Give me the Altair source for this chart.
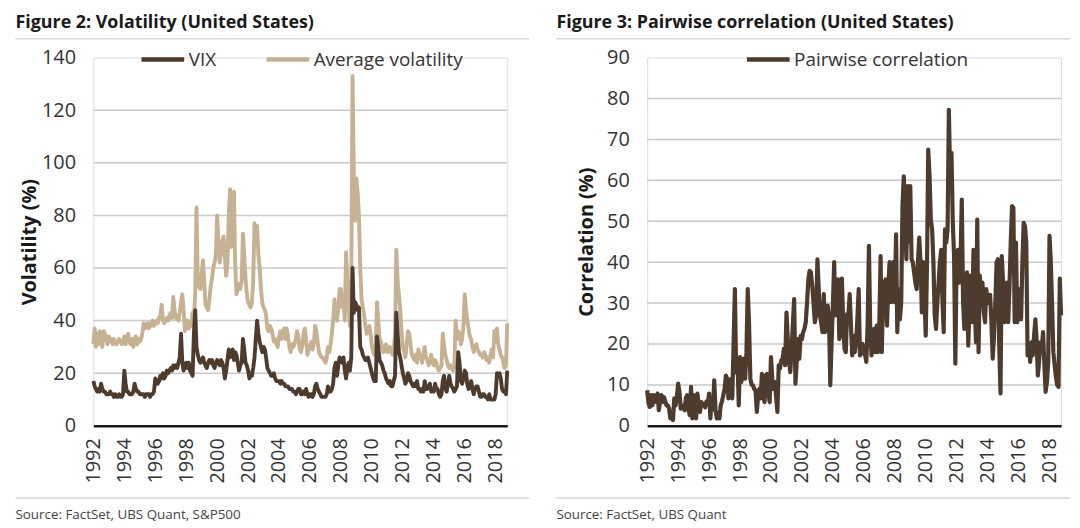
import altair as alt
import pandas as pd

# ---------------- data (monthly, Jan 1992 - Oct 2018) ----------------
vix = [
    17, 15, 14, 13, 14, 13, 16, 14, 13, 13, 12, 12,   # 1992
    12, 13, 12, 12, 11, 12, 11, 11, 12, 11, 11, 12,   # 1993
    21, 16, 13, 13, 12, 12, 12, 13, 16, 14, 13, 13,   # 1994
    12, 12, 12, 12, 11, 12, 12, 12, 11, 12, 12, 13,   # 1995
    18, 17, 16, 17, 19, 18, 20, 18, 19, 21, 20, 21,   # 1996
    22, 21, 23, 22, 23, 22, 24, 26, 35, 24, 21, 23,   # 1997
    24, 22, 24, 21, 20, 19, 35, 44, 30, 27, 25, 24,   # 1998
    25, 26, 24, 23, 22, 24, 25, 24, 25, 23, 22, 24,   # 1999
    25, 24, 23, 25, 24, 22, 18, 21, 25, 29, 26, 28,   # 2000
    29, 25, 28, 27, 24, 21, 23, 24, 33, 29, 24, 23,   # 2001
    21, 18, 20, 19, 22, 26, 33, 40, 35, 32, 30, 28,   # 2002
    30, 29, 26, 22, 21, 20, 19, 19, 20, 18, 17, 17,   # 2003
    17, 16, 17, 16, 16, 15, 15, 15, 14, 14, 14, 13,   # 2004
    13, 12, 13, 14, 14, 12, 12, 13, 12, 14, 12, 11,   # 2005
    12, 12, 11, 12, 15, 16, 14, 13, 12, 11, 11, 11,   # 2006
    11, 12, 15, 13, 13, 14, 16, 22, 24, 19, 23, 26,   # 2007
    25, 24, 26, 21, 18, 22, 24, 21, 26, 60, 43, 47,   # 2008
    46, 44, 45, 30, 29, 27, 26, 25, 25, 26, 24, 22,   # 2009
    20, 18, 17, 17, 34, 30, 25, 24, 23, 21, 20, 18,   # 2010
    17, 16, 17, 15, 15, 17, 19, 43, 35, 28, 26, 23,   # 2011
    20, 18, 16, 17, 20, 19, 17, 16, 15, 16, 15, 17,   # 2012
    14, 14, 13, 14, 13, 17, 14, 14, 15, 16, 13, 14,   # 2013
    13, 16, 14, 14, 12, 11, 12, 17, 19, 14, 13, 16,   # 2014
    19, 16, 15, 14, 13, 14, 15, 28, 24, 17, 16, 18,   # 2015
    21, 20, 16, 14, 15, 17, 14, 12, 14, 15, 15, 13,   # 2016
    11, 11, 12, 12, 11, 11, 10, 12, 10, 10, 10, 10,   # 2017
    12, 20, 19, 20, 18, 14, 13, 13, 12, 21,           # 2018
]

avg_vol = [
    31, 37, 30, 35, 31, 36, 33, 30, 36, 35, 33, 31,   # 1992
    34, 32, 33, 31, 33, 32, 31, 32, 33, 32, 31, 32,   # 1993
    34, 31, 33, 35, 32, 31, 33, 30, 33, 34, 31, 33,   # 1994
    32, 33, 35, 39, 37, 38, 39, 37, 39, 38, 40, 38,   # 1995
    39, 40, 39, 41, 42, 46, 40, 39, 40, 41, 40, 42,   # 1996
    43, 41, 49, 44, 41, 42, 40, 43, 47, 50, 44, 36,   # 1997
    38, 40, 37, 39, 38, 43, 41, 50, 83, 55, 53, 52,   # 1998
    58, 63, 55, 46, 45, 44, 48, 53, 56, 60, 62, 65,   # 1999
    80, 70, 62, 66, 70, 72, 64, 57, 62, 80, 90, 68,   # 2000
    75, 89, 62, 50, 52, 54, 52, 55, 73, 65, 56, 50,   # 2001
    47, 46, 45, 47, 55, 77, 70, 76, 65, 60, 52, 47,   # 2002
    45, 44, 42, 37, 36, 38, 37, 35, 32, 33, 31, 30,   # 2003
    34, 36, 33, 35, 37, 33, 37, 34, 30, 28, 31, 30,   # 2004
    31, 33, 36, 34, 29, 28, 30, 35, 37, 33, 27, 29,   # 2005
    30, 32, 29, 31, 38, 36, 32, 28, 27, 26, 26, 25,   # 2006
    24, 26, 30, 28, 31, 35, 40, 48, 42, 40, 45, 52,   # 2007
    52, 45, 47, 40, 66, 55, 45, 38, 52, 133, 95, 78,  # 2008
    94, 88, 80, 60, 48, 45, 42, 38, 35, 36, 38, 35,   # 2009
    30, 28, 27, 30, 47, 40, 33, 32, 30, 28, 29, 31,   # 2010
    28, 29, 30, 28, 27, 29, 35, 67, 55, 50, 44, 36,   # 2011
    30, 28, 26, 31, 36, 35, 31, 27, 26, 25, 27, 24,   # 2012
    29, 27, 26, 24, 27, 30, 26, 25, 23, 25, 27, 24,   # 2013
    23, 25, 24, 22, 21, 22, 23, 35, 30, 27, 25, 23,   # 2014
    22, 23, 22, 21, 22, 40, 33, 36, 35, 31, 33, 38,   # 2015
    50, 44, 40, 37, 34, 33, 30, 28, 30, 31, 29, 28,   # 2016
    27, 27, 26, 28, 27, 25, 26, 24, 27, 29, 26, 36,   # 2017
    32, 37, 31, 29, 27, 26, 24, 22, 23, 39,           # 2018
]

pairwise = [
    8.7, 5.5, 4.6, 7.5, 5.0, 7.5, 5.8, 6.5, 7.9, 3.8, 6.0, 7.5,          # 1992
    5.8, 7.0, 6.0, 5.0, 5.0, 4.2, 1.8, 3.0, 1.4, 6.7, 5.0, 7.0,          # 1993
    10.3, 8.3, 4.2, 5.0, 4.5, 3.8, 6.7, 7.5, 4.0, 2.6, 9.5, 1.8,         # 1994
    7.5, 4.0, 1.8, 7.9, 5.0, 3.4, 5.8, 5.4, 5.0, 4.5, 6.0, 5.4,          # 1995
    7.9, 1.8, 6.7, 4.0, 11.1, 4.0, 1.8, 3.0, 1.8, 5.0, 6.0, 7.5,         # 1996
    9.0, 12.3, 11.5, 6.7, 9.0, 11.5, 6.7, 20.0, 33.4, 13.0, 16.4, 5.0,   # 1997
    16.8, 10.7, 14.0, 16.4, 11.5, 18.0, 33.4, 25.0, 11.5, 10.0, 9.9, 9.0,  # 1998
    8.7, 3.4, 7.0, 9.0, 6.7, 12.7, 8.0, 5.8, 12.3, 12.7, 8.0, 5.8,       # 1999
    16.8, 11.5, 9.0, 10.7, 7.0, 3.4, 14.8, 14.0, 16.0, 16.4, 18.8, 14.8,  # 2000
    27.7, 21.2, 16.0, 13.1, 18.8, 25.0, 31.0, 10.3, 16.0, 21.2, 16.4, 22.0,  # 2001
    21.2, 23.0, 23.7, 25.3, 30.0, 35.8, 37.9, 37.5, 34.2, 30.0, 25.3, 27.0,  # 2002
    40.7, 33.4, 27.0, 25.0, 22.9, 32.2, 22.9, 26.0, 29.4, 26.5, 9.9, 20.0,   # 2003
    29.4, 40.0, 27.0, 30.0, 35.8, 21.2, 22.9, 36.0, 25.0, 18.8, 18.0, 27.3,  # 2004
    27.0, 32.2, 25.0, 17.2, 22.0, 18.0, 20.4, 26.0, 33.4, 17.2, 18.5, 20.0,  # 2005
    17.6, 17.2, 15.6, 25.0, 44.0, 23.7, 17.2, 20.0, 23.7, 18.0, 24.5, 18.0,  # 2006
    25.0, 41.5, 18.0, 33.4, 35.0, 35.8, 24.5, 34.0, 40.0, 30.2, 35.0, 40.0,  # 2007
    30.2, 46.8, 22.9, 33.4, 26.0, 30.0, 53.7, 61.0, 49.6, 40.7, 58.6, 45.0,  # 2008
    58.6, 40.7, 40.0, 37.5, 35.0, 33.4, 40.0, 46.0, 40.0, 27.7, 40.0, 32.0,  # 2009
    22.0, 40.0, 67.5, 61.0, 50.4, 48.0, 40.0, 27.0, 23.7, 30.0, 35.0, 40.0,  # 2010
    43.0, 30.0, 22.9, 48.0, 44.8, 48.0, 77.2, 60.2, 66.7, 50.0, 41.5, 15.2,  # 2011
    41.5, 43.0, 35.0, 40.0, 55.3, 30.2, 23.7, 28.0, 37.5, 19.6, 30.0, 36.7,  # 2012
    25.3, 43.0, 30.0, 20.4, 50.4, 18.0, 36.7, 29.4, 35.0, 28.0, 25.3, 33.4,  # 2013
    30.0, 31.0, 32.0, 25.3, 16.4, 22.0, 30.0, 40.0, 40.7, 20.0, 7.9, 41.5,   # 2014
    35.0, 25.3, 30.0, 35.0, 25.3, 34.2, 45.0, 53.7, 53.3, 25.3, 44.8, 25.3,  # 2015
    30.0, 33.4, 26.0, 40.0, 49.6, 48.8, 44.8, 17.2, 20.0, 15.6, 20.4, 17.2,  # 2016
    22.0, 26.0, 21.2, 12.3, 16.0, 20.4, 18.8, 22.9, 15.0, 8.3, 10.7, 15.6,   # 2017
    46.4, 40.0, 30.0, 18.0, 15.0, 12.0, 10.0, 9.5, 36.0, 27.0,               # 2018
]

label_years = list(range(1992, 2019, 2))
grid_left = [20, 40, 60, 80, 100, 120]
grid_right = [10, 20, 30, 40, 50, 60, 70, 80]
left_series = ["VIX", "Average volatility"]
right_series = ["Pairwise correlation"]
left_title = "Figure 2: Volatility (United States)"
right_title = "Figure 3: Pairwise correlation (United States)"
left_source = "Source: FactSet, UBS Quant, S&P500"
right_source = "Source: FactSet, UBS Quant"

# ---------------- build tables ----------------
n = len(vix)
dates = pd.date_range("1992-01-01", periods=n, freq="MS")
left_df = pd.concat([
    pd.DataFrame({"date": dates, "value": avg_vol, "series": "Average volatility"}),
    pd.DataFrame({"date": dates, "value": vix, "series": "VIX"}),
])
right_df = pd.DataFrame({"date": dates, "value": pairwise, "series": "Pairwise correlation"})

# ---------------- style ----------------
FONT = "Open Sans"
DARK = "#4d3c2e"
TAN = "#c6b292"
GRID = "#c9c9c9"
RULE = "#d6d6d6"
W, H = 417, 371
one = pd.DataFrame({"k": [0]})


def x_enc():
    return alt.X(
        "date:T", title=None,
        scale=alt.Scale(domain=[alt.DateTime(year=1992, month=1, date=1),
                                alt.DateTime(year=2018, month=10, date=1)]),
        axis=alt.Axis(values=[alt.DateTime(year=y, month=1, date=1) for y in label_years],
                      format="%Y", labelAngle=270, labelFontSize=20, labelFont=FONT,
                      labelColor="#333333", labelPadding=12, ticks=False, tickSize=0,
                      grid=False, domainColor="#1a1a1a", domainWidth=2.5,
                      labelOverlap=False, labelFlush=False),
    )


def y_enc(top, step, title, tx):
    return alt.Y(
        "value:Q", title=title, scale=alt.Scale(domain=[0, top], nice=False, zero=True),
        axis=alt.Axis(values=list(range(0, top + 1, step)), grid=False, domain=False,
                      ticks=False, tickSize=0, labelFontSize=20, labelFont=FONT,
                      labelColor="#333333", labelPadding=18,
                      titleFontSize=20, titleFont=FONT, titleFontWeight="bold",
                      titleColor="#1a1a1a", titleAngle=270, titleX=tx, titleY=H / 2,
                      titleAlign="center", titleBaseline="middle"),
    )


def panel(df, series, colors, width_line, top, step, grid, ytitle, tx, title, source,
          rule_x0, rule_x1, legend_x):
    yy = y_enc(top, step, ytitle, tx)
    grid_layer = alt.Chart(pd.DataFrame({"value": grid})).mark_rule(
        color=GRID, strokeWidth=1.5).encode(
        y=yy, x=alt.value(0), x2=alt.value(W))
    lines = alt.Chart(df).mark_line(strokeWidth=width_line, strokeJoin="round").encode(
        x=x_enc(),
        y=yy,
        color=alt.Color("series:N", scale=alt.Scale(domain=series, range=colors),
                        legend=alt.Legend(title=None, orient="none", legendX=legend_x,
                                          legendY=-22, direction="horizontal",
                                          symbolType="stroke", symbolSize=1849,
                                          symbolStrokeWidth=4.5, labelFontSize=19,
                                          labelFont=FONT, labelColor="#333333",
                                          columnPadding=41, labelOffset=2, padding=0,
                                          labelLimit=400)),
        detail="series:N",
    )
    top_rule = alt.Chart(one).mark_rule(color=RULE, strokeWidth=1.5).encode(
        x=alt.value(rule_x0), x2=alt.value(rule_x1), y=alt.value(-19))
    bottom_rule = alt.Chart(one).mark_rule(color=RULE, strokeWidth=1.5).encode(
        x=alt.value(rule_x0), x2=alt.value(rule_x1), y=alt.value(443.7))
    src = alt.Chart(pd.DataFrame({"t": [source]})).mark_text(
        align="left", baseline="alphabetic", fontSize=13.5, font=FONT,
        color="#444444").encode(
        x=alt.value(rule_x0), y=alt.value(465), text="t:N")
    return alt.layer(grid_layer, lines, top_rule, bottom_rule, src).properties(
        width=W, height=H,
        title=alt.TitleParams(text=title, anchor="start", frame="group", dx=rule_x0,
                              fontSize=18, font=FONT, fontWeight="bold",
                              color="#1a1a1a", offset=3.3),
    )


left = panel(left_df, left_series, [DARK, TAN], 3.9, 140, 20, grid_left, "Volatility (%)",
             -64, left_title, left_source, -78.5, 439, 46)
right = panel(right_df, right_series, [DARK], 4.2, 90, 10, grid_right, "Correlation (%)",
              -61.5, right_title, right_source, -91.5, 426, 98)

chart = alt.hconcat(left, right, spacing=24).resolve_scale(
    color="independent"
).properties(
    padding={"left": 6, "top": 4, "right": 0, "bottom": 0}
).configure_view(stroke=None).configure(font=FONT)

chart.save("out.html", embed_options={"renderer": "svg", "actions": False})
